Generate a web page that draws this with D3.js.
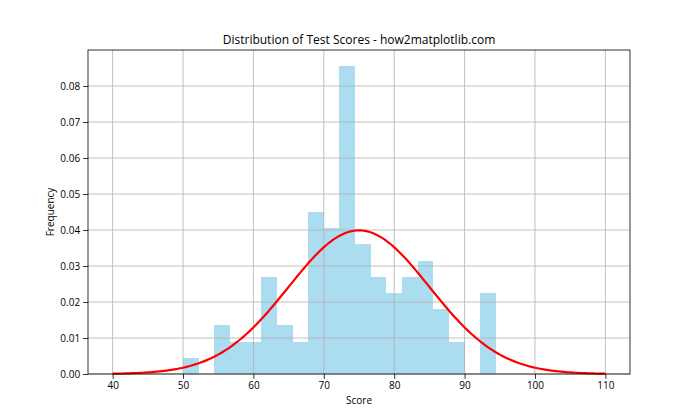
<!DOCTYPE html>
<html>
<head>
<meta charset="utf-8">
<script src="https://cdn.jsdelivr.net/npm/d3@7"></script>
<style>
  body { margin: 0; background: #fff; }
  svg { display: block; font-family: "Open Sans", "Noto Sans", "DejaVu Sans", sans-serif; }
</style>
</head>
<body>
<svg id="chart" width="700" height="420"></svg>
<script>
// ---- data ----
const binEdges = [50.00, 52.22, 54.44, 56.67, 58.89, 61.11, 63.33, 65.56, 67.78, 70.00, 72.22,
                  74.44, 76.67, 78.89, 81.11, 83.33, 85.56, 87.78, 90.00, 92.22, 94.44];
const binDensity = [0.0045, 0.0, 0.0135, 0.009, 0.009, 0.027, 0.0135, 0.009, 0.045, 0.0405,
                    0.0855, 0.036, 0.027, 0.0225, 0.027, 0.0315, 0.018, 0.009, 0.0, 0.0225];
const fitMean = 75;
const fitSd = 10;
const curveRange = [40, 110];
const xTicks = [40, 50, 60, 70, 80, 90, 100, 110];
const yTicks = [0, 0.01, 0.02, 0.03, 0.04, 0.05, 0.06, 0.07, 0.08];
const title = "Distribution of Test Scores - how2matplotlib.com";
const xLabel = "Score";
const yLabel = "Frequency";

// ---- layout ----
const svg = d3.select("#chart");
const L = 88, R = 630, T = 50, B = 374;
const x = d3.scaleLinear().domain([36.5, 113.5]).range([L, R]);
const y = d3.scaleLinear().domain([0, 0.09]).range([B, T]);

// bars
const bins = binDensity.map((d, i) => ({x0: binEdges[i], x1: binEdges[i + 1], v: d}));
svg.append("g").attr("shape-rendering", "crispEdges").selectAll("rect").data(bins).join("rect")
  .attr("x", d => x(d.x0))
  .attr("width", d => x(d.x1) - x(d.x0))
  .attr("y", d => y(d.v))
  .attr("height", d => y(0) - y(d.v))
  .attr("fill", "#abdcf0");

// grid
const grid = svg.append("g").attr("stroke", "#b0b0b0").attr("stroke-width", 0.8);
grid.selectAll(".gx").data(xTicks).join("line")
  .attr("x1", d => x(d)).attr("x2", d => x(d)).attr("y1", T).attr("y2", B);
grid.selectAll(".gy").data(yTicks).join("line")
  .attr("y1", d => y(d)).attr("y2", d => y(d)).attr("x1", L).attr("x2", R);

// fitted normal curve
const n = 200;
const pts = d3.range(n + 1).map(i => {
  const xv = curveRange[0] + (curveRange[1] - curveRange[0]) * i / n;
  const z = (xv - fitMean) / fitSd;
  return [xv, Math.exp(-0.5 * z * z) / (fitSd * Math.sqrt(2 * Math.PI))];
});
svg.append("path")
  .attr("d", d3.line().x(d => x(d[0])).y(d => y(d[1]))(pts))
  .attr("fill", "none").attr("stroke", "#ff0000").attr("stroke-width", 2.2);

// axes
const xAxis = svg.append("g").attr("transform", `translate(0,${B})`)
  .call(d3.axisBottom(x).tickValues(xTicks).tickFormat(d3.format("d")).tickSizeOuter(0).tickSize(4.9).tickPadding(3));
const yAxis = svg.append("g").attr("transform", `translate(${L},0)`)
  .call(d3.axisLeft(y).tickValues(yTicks).tickFormat(d3.format(".2f")).tickSizeOuter(0).tickSize(4.9).tickPadding(3));
[xAxis, yAxis].forEach(a => {
  a.select(".domain").remove();
  a.selectAll("text").attr("font-size", "10px").attr("fill", "#000").attr("font-family", "'Open Sans', 'Noto Sans', sans-serif");
  a.selectAll("line").attr("stroke", "#000").attr("stroke-width", 0.8);
});

// frame
svg.append("rect").attr("x", L).attr("y", T).attr("width", R - L).attr("height", B - T)
  .attr("fill", "none").attr("stroke", "#000").attr("stroke-width", 0.8);

// labels
svg.append("text").attr("x", (L + R) / 2).attr("y", T - 6).attr("text-anchor", "middle")
  .attr("font-size", "12px").attr("fill", "#000").text(title);
svg.append("text").attr("x", (L + R) / 2).attr("y", 404).attr("text-anchor", "middle")
  .attr("font-size", "10px").attr("fill", "#000").text(xLabel);
svg.append("text").attr("transform", `translate(54,${(T + B) / 2}) rotate(-90)`).attr("text-anchor", "middle")
  .attr("font-size", "10px").attr("fill", "#000").text(yLabel);
</script>
</body>
</html>
